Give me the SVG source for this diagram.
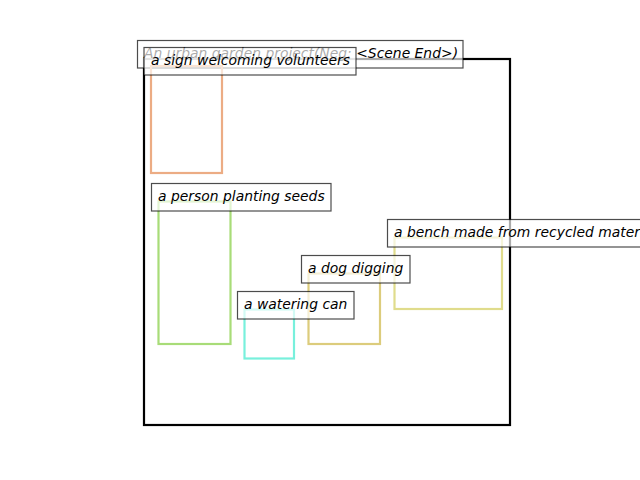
<svg xmlns="http://www.w3.org/2000/svg" width="640" height="480" viewBox="0 0 640 480">
<style>
text{font-family:"DejaVu Sans","Liberation Sans",sans-serif;font-style:oblique;font-size:13.9px;fill:#000}
.lb{fill:#fff;fill-opacity:0.67;stroke:#000;stroke-opacity:0.7;stroke-width:1.2}
.bx{fill:none;stroke-width:2.2}
</style>
<rect width="640" height="480" fill="#fff"/>
<rect x="144" y="59" width="366" height="366" fill="none" stroke="#000" stroke-width="2.2"/>
<g id="title">
<rect class="lb" x="137.5" y="40.5" width="325.5" height="27.5"/>
<text x="144" y="58">An urban garden project(Neg: &lt;Scene End&gt;)</text>
</g>
<g id="sign">
<rect class="bx" x="151" y="66" width="71" height="107" stroke="#ECAC84"/>
<rect class="lb" x="144" y="47.5" width="212" height="27.5"/>
<text x="151" y="65">a sign welcoming volunteers</text>
</g>
<g id="person">
<rect class="bx" x="158.5" y="201.5" width="72" height="142.5" stroke="#A8DC78"/>
<rect class="lb" x="151.5" y="183.5" width="179.5" height="27.5"/>
<text x="158" y="201">a person planting seeds</text>
</g>
<g id="bench">
<rect class="bx" x="394.5" y="237.5" width="107.5" height="71.5" stroke="#E0DC8C"/>
<rect class="lb" x="387.5" y="219.5" width="260" height="27.5"/>
<text x="394" y="237">a bench made from recycled materials</text>
</g>
<g id="dog">
<rect class="bx" x="308.5" y="273.5" width="71.5" height="70.5" stroke="#DCCC7C"/>
<rect class="lb" x="301.5" y="255.5" width="108.5" height="27.5"/>
<text x="308" y="273">a dog digging</text>
</g>
<g id="can">
<rect class="bx" x="244.5" y="309.5" width="49.5" height="49" stroke="#78F0DC"/>
<rect class="lb" x="237.5" y="291.5" width="116.5" height="27.5"/>
<text x="244" y="309">a watering can</text>
</g>
<g id="connectors"/>
</svg>
